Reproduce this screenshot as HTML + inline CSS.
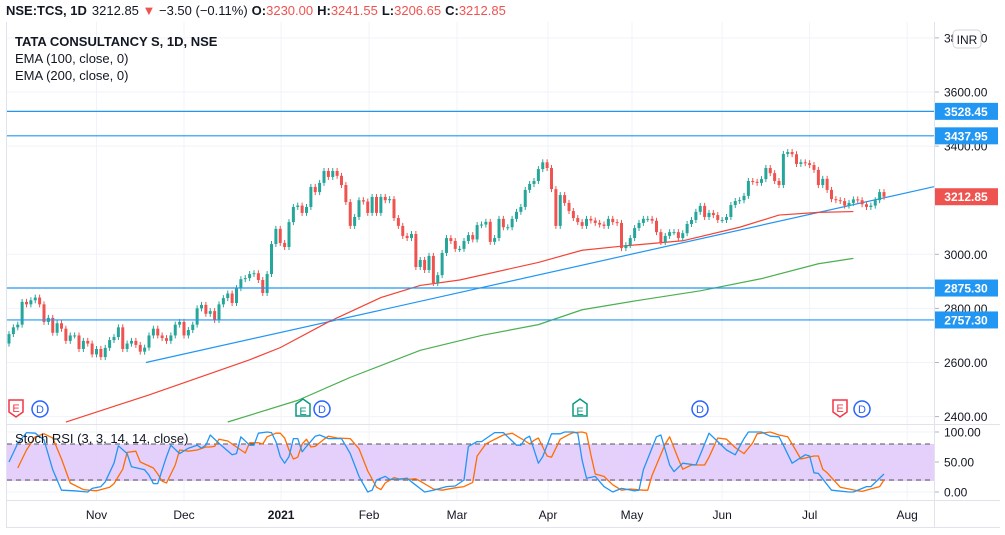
<!DOCTYPE html>
<html><head><meta charset="utf-8">
<style>
html,body{margin:0;padding:0;background:#fff;width:1005px;height:535px;overflow:hidden;font-family:"Liberation Sans",sans-serif;}
svg{display:block}
</style></head>
<body>
<svg id="chart" width="1005" height="535" viewBox="0 0 1005 535" xmlns="http://www.w3.org/2000/svg" font-family="Liberation Sans, sans-serif">
<g id="grid"></g>
<rect x="7" y="444" width="927" height="37" fill="#e1c8fb" opacity="0.85"/>
<line x1="7" y1="444" x2="934" y2="444" stroke="#555" stroke-dasharray="5,4"/>
<line x1="7" y1="480" x2="934" y2="480" stroke="#555" stroke-dasharray="5,4"/>
<g id="marks"></g>
<g id="stoch"></g>
<g id="axes"></g>
<line x1="6.5" y1="22" x2="6.5" y2="527" stroke="#e0e3eb"/>
<line x1="934.5" y1="22" x2="934.5" y2="527" stroke="#e0e3eb"/>
<line x1="6" y1="424.5" x2="1000" y2="424.5" stroke="#e0e3eb"/>
<line x1="6" y1="500.5" x2="1000" y2="500.5" stroke="#e0e3eb"/>
<line x1="6" y1="527.5" x2="1000" y2="527.5" stroke="#e0e3eb"/>
<text y="15" font-size="13"><tspan x="6" font-weight="bold" fill="#131722">NSE:TCS, 1D</tspan><tspan dx="5" fill="#131722">3212.85</tspan><tspan fill="#ef5350"> ▼ </tspan><tspan fill="#131722">−3.50 (−0.11%)</tspan><tspan font-weight="bold" fill="#131722" dx="4">O:</tspan><tspan fill="#ef5350">3230.00</tspan><tspan font-weight="bold" fill="#131722" dx="4">H:</tspan><tspan fill="#ef5350">3241.55</tspan><tspan font-weight="bold" fill="#131722" dx="4">L:</tspan><tspan fill="#ef5350">3206.65</tspan><tspan font-weight="bold" fill="#131722" dx="4">C:</tspan><tspan fill="#ef5350">3212.85</tspan></text>
<text x="15" y="46" font-size="13" font-weight="bold" fill="#131722">TATA CONSULTANCY S, 1D, NSE</text>
<text x="15" y="63" font-size="13" fill="#131722">EMA (100, close, 0)</text>
<text x="15" y="80" font-size="13" fill="#131722">EMA (200, close, 0)</text>
<text x="15" y="443" font-size="13" fill="#131722">Stoch RSI (3, 3, 14, 14, close)</text>
<g><rect x="953" y="30" width="28" height="18" rx="4" fill="#fff" stroke="#d1d4dc"/><text x="967" y="44" font-size="12" text-anchor="middle" fill="#131722">INR</text></g>
</svg>
<script>
const closes=[2705,2730,2740,2824,2815,2830,2840,2815,2750,2765,2710,2745,2725,2680,2700,2700,2650,2680,2670,
2630,2650,2620,2654,2683,2694,2730,2650,2670,2680,2665,2640,2655,2700,2725,2700,2690,2680,2700,
2740,2750,2700,2720,2740,2800,2813,2780,2790,2757,2815,2838,2855,2820,2875,2908,2912,2927,2930,2905,2857,2927,
3038,3094,3042,3027,3119,3175,3180,3153,3175,3249,3230,3264,3308,3286,3308,3290,3256,3193,3105,3138,
3200,3195,3153,3212,3153,3212,3200,3204,3134,3105,3068,3060,3075,2953,2979,2942,2994,2894,2923,
3005,3060,3049,3020,3020,3049,3071,3055,3108,3110,3120,3046,3060,3131,3100,3100,3131,3157,3175,3238,3260,3271,3315,3340,3319,
3241,3105,3219,3190,3160,3134,3119,3105,3131,3125,3116,3110,3105,3131,3119,3116,3023,3034,3060,3097,3116,3131,3131,
3124,3082,3045,3068,3082,3082,3060,3078,3112,3127,3157,3179,3138,3153,3145,3127,3127,3138,3182,3197,3200,3216,
3271,3268,3264,3278,3319,3300,3271,3256,3371,3378,3370,3334,3340,3337,3330,3312,3256,3279,3238,3204,3200,
3197,3180,3190,3203,3200,3185,3175,3180,3200,3230,3212.85];
const ema100Idx=[13,32,55,62,73,85,94,103,121,131,140,154,167,176,185,193];
const ema100Val=[2380,2480,2610,2655,2750,2840,2885,2905,2970,3015,3030,3050,3100,3145,3155,3158];
const ema200Idx=[50,66,78,94,108,121,131,144,158,172,185,193];
const ema200Val=[2380,2460,2545,2645,2700,2740,2795,2830,2865,2910,2965,2985];
const kIdx=[0,2,4,6,8,10,12,15,18,19,21,22,24,25,27,28,31,32,33,34,36,37,39,41,43,44,45,46,48,51,52,53,55,56,57,59,60,61,62,63,64,65,66,67,68,70,71,73,76,78,80,82,83,84,86,87,89,91,92,95,97,100,102,104,105,107,108,111,113,116,117,118,119,121,122,124,126,127,129,130,131,132,134,136,138,140,143,144,145,148,149,151,152,154,157,158,160,162,164,166,168,169,172,174,176,177,179,182,183,184,185,188,192,193,196,197,200];
const kVal=[50,81,99,98,87,37,3,2,0,6,9,17,48,77,64,42,37,28,14,14,59,78,64,73,78,73,78,95,81,62,64,92,78,78,98,100,99,84,59,48,59,89,89,67,76,93,95,89,89,64,26,0,3,20,26,21,21,23,17,0,3,9,10,20,76,84,84,99,99,78,78,89,93,48,59,97,97,100,100,98,53,23,26,9,0,6,2,3,37,92,95,45,34,48,45,62,98,84,70,62,89,100,100,93,92,78,48,62,60,32,31,3,0,0,9,9,30];
const dIdx=[2,4,6,8,10,12,14,17,20,21,23,24,26,27,29,30,33,34,35,36,38,39,41,43,45,46,47,48,50,53,54,55,57,58,59,61,62,63,64,65,66,67,68,69,70,72,73,75,78,80,82,84,85,86,88,89,91,93,94,97,99,102,104,106,107,109,110,113,115,118,119,120,121,123,124,126,128,129,131,132,133,134,136,138,140,142,145,146,147,150,151,153,154,156,159,160,162,164,166,168,170,171,174,176,178,179,181,184,185,186,187,190,194,195,198,199,200];
const dVal=[40,70,92,97,90,55,15,4,2,4,8,14,38,66,68,50,40,30,18,15,45,70,68,70,75,75,76,88,85,70,65,82,82,80,92,98,98,90,70,55,58,80,88,75,76,88,93,90,89,72,35,8,4,15,24,22,21,22,18,5,3,7,9,16,60,80,84,95,98,85,80,86,90,60,58,88,96,99,100,98,62,30,26,12,3,5,3,3,28,80,92,55,38,45,45,58,90,88,74,64,82,97,100,95,92,80,55,60,60,38,32,8,2,1,7,9,20];
const priceTicks=[3800,3600,3400,3000,2800,2600,2400];
const hLines=[3528.45,3437.95,2875.30,2757.30];
const monthLabels=['Nov','Dec','2021','Feb','Mar','Apr','May','Jun','Jul','Aug'];
const monthIdx=[20,40,62.2,82.3,102.4,123.2,142.4,163,183,205.3];
const stochTicks=[100,50,0];

const NS='http://www.w3.org/2000/svg';
const X0=9, STEP=4.375;
function xs(i){return X0+i*STEP;}
function yp(p){return 92+(3600-p)*0.2705;}
function ys(v){return 492-v*0.6;}
function mk(tag,attrs,parent){const e=document.createElementNS(NS,tag);for(const k in attrs)e.setAttribute(k,attrs[k]);parent.appendChild(e);return e;}
const grid=document.getElementById('grid'),marks=document.getElementById('marks'),stoch=document.getElementById('stoch'),axes=document.getElementById('axes');

monthIdx.forEach((m,i)=>{
  const l=mk('line',{x1:xs(m),x2:xs(m),y1:22,y2:500,stroke:'#f0f3fa'},grid);
  
  
  const t=mk('text',{x:xs(m),y:519,'font-size':12,'text-anchor':'middle',fill:'#131722','font-weight':monthLabels[i]==='2021'?'bold':'normal'},axes);
  t.textContent=monthLabels[i];
  
  
});
priceTicks.forEach(p=>{
  const y=yp(p);
  if(y>30){const l=mk('line',{x1:7,x2:934,y1:y,y2:y,stroke:'#f0f3fa'},grid);
  
  }
  mk('line',{x1:934,x2:939,y1:y,y2:y,stroke:'#b2b5be'},axes);
  const t=mk('text',{x:944,y:y+4.5,'font-size':12,fill:'#131722'},axes);
  t.textContent=p.toFixed(2);
  
  
});
stochTicks.forEach(v=>{
  const y=ys(v);
  const l=mk('line',{x1:7,x2:934,y1:y,y2:y,stroke:'#f0f3fa'},grid);
  
  
  mk('line',{x1:934,x2:939,y1:y,y2:y,stroke:'#b2b5be'},axes);
  const t=mk('text',{x:944,y:y+4.5,'font-size':12,fill:'#131722'},axes);
  t.textContent=v.toFixed(2);
  
  
});

const tl=mk('line',{x1:xs(31.3),y1:yp(2600),x2:934,y2:yp(3250),stroke:'#2196f3','stroke-width':1.2},marks);



function poly(idx,val,color,name){
  const pts=idx.map((i,k)=>xs(i)+','+yp(val[k])).join(' ');
  const p=mk('polyline',{points:pts,fill:'none',stroke:color,'stroke-width':1.2,'stroke-linejoin':'round'},marks);
  
  
}
poly(ema100Idx,ema100Val,'#f44336','ema-100-line');
poly(ema200Idx,ema200Val,'#4caf50','ema-200-line');

closes.forEach((c,i)=>{
  const o=i===0?2670:closes[i-1];
  const up=c>=o, col=up?'#26a69a':'#ef5350';
  const x=xs(i), yt=yp(Math.max(o,c)), yb=yp(Math.min(o,c));
  const g=mk('g',{},marks);
  
  
  mk('line',{x1:x,x2:x,y1:yt-3,y2:yb+3,stroke:col,'stroke-width':1},g);
  mk('rect',{x:x-1.5,y:yt,width:3,height:Math.max(1,yb-yt),fill:col},g);
});

hLines.forEach(p=>{
  const y=yp(p);
  const l=mk('line',{x1:7,x2:934,y1:y,y2:y,stroke:'#2196f3','stroke-width':1.2},marks);
  
  
  const g=mk('g',{},axes);
  
  
  mk('rect',{x:934,y:y-8.5,width:64,height:17,fill:'#2196f3'},g);
  const t=mk('text',{x:966,y:y+4.5,'font-size':12,'font-weight':'bold','text-anchor':'middle',fill:'#fff'},g);
  t.textContent=p.toFixed(2);
});
{
  const y=yp(closes[closes.length-1]);
  const g=mk('g',{},axes);
  
  
  mk('rect',{x:934,y:y-8.5,width:64,height:17,fill:'#ef5350'},g);
  const t=mk('text',{x:966,y:y+4.5,'font-size':12,'font-weight':'bold','text-anchor':'middle',fill:'#fff'},g);
  t.textContent=closes[closes.length-1].toFixed(2);
}

function spoly(idx,val,color,name){
  const pts=idx.map((i,k)=>xs(i)+','+ys(val[k])).join(' ');
  const p=mk('polyline',{points:pts,fill:'none',stroke:color,'stroke-width':1.3,'stroke-linejoin':'round'},stoch);
  
  
}
spoly(dIdx,dVal,'#ff6d00','stoch-d-line');
spoly(kIdx,kVal,'#2196f3','stoch-k-line');

function earn(x,color,down){
  const g=mk('g',{},marks);
  
  
  const d=down?`M${x-7},400 h14 v12 l-7,5 l-7,-5 z`:`M${x-7},404 l7,-5 l7,5 v12 h-14 z`;
  mk('path',{d:d,fill:'#fff',stroke:color,'stroke-width':1.5},g);
  const t=mk('text',{x:x,y:down?412:415,'font-size':11,'text-anchor':'middle',fill:color},g);
  t.textContent='E';
}
function div(x){
  const g=mk('g',{},marks);
  
  
  mk('circle',{cx:x,cy:409,r:8,fill:'#fff',stroke:'#2962ff','stroke-width':1.5},g);
  const t=mk('text',{x:x,y:413,'font-size':11,'text-anchor':'middle',fill:'#2962ff'},g);
  t.textContent='D';
}
earn(16,'#f23645',true);div(40);
earn(303,'#089981',false);div(322);
earn(580,'#089981',false);div(700);
earn(840,'#f23645',true);div(862);
</script>
</body></html>
